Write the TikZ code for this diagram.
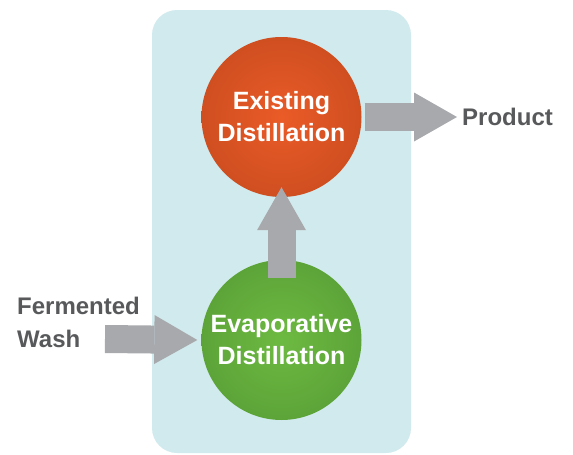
\documentclass[tikz,border=0pt]{standalone}
\usepackage{xcolor}
\usepackage{fontspec}
\setmainfont{Liberation Sans}
\usepackage{tikz}
\usetikzlibrary{arrows.meta}
\definecolor{panel}{HTML}{D1EAED}
\definecolor{flowgray}{HTML}{A7A9AC}
\definecolor{textgray}{HTML}{58595B}
\definecolor{hotin}{HTML}{EA5B27}
\definecolor{hotout}{HTML}{B5421B}
\definecolor{leafin}{HTML}{6DBA42}
\definecolor{leafout}{HTML}{4C8E2E}
\pgfdeclareradialshading{hotball}{\pgfpoint{0bp}{0bp}}{color(0bp)=(hotin); color(50bp)=(hotout)}
\pgfdeclareradialshading{leafball}{\pgfpoint{0bp}{0bp}}{color(0bp)=(leafin); color(50bp)=(leafout)}
\tikzset{>=latex}
\tikzstyle{ball} = [circle, minimum size = 160pt, inner sep = 0, align = center, text = white, font = \bfseries\fontsize{25}{32}\selectfont]
\tikzstyle{lbl} = [inner sep = 0, text = textgray, font = \bfseries\fontsize{24}{33}\selectfont]
\tikzstyle{flow} = [draw = flowgray, line width = 28pt, -{Triangle[width = 49pt, length = 43pt, line width = 0pt]}]

\begin{document}
\begin{tikzpicture}[x = 1pt, y = 1pt]
\useasboundingbox (0, 0) rectangle (573, -455);
\fill [panel, rounded corners = 25pt] (152, -10) rectangle (411, -453);
\node [ball, shading = hotball] (exist) at (281.5, -117) {Existing\\Distillation};
\node [ball, shading = leafball] (evap) at (281.5, -340) {Evaporative\\Distillation};
\node [lbl, anchor = base west] (product) at (462, -125) {Product};
\node [lbl, anchor = west, align = left] (wash) at (17, -322) {Fermented\\Wash};
\coordinate (washin) at (105, -339);
\draw [flow] (washin) to ([xshift = -4pt]evap.west);
\draw [flow] ([yshift = -18pt]evap.north) to ([yshift = 10pt]exist.south);
\draw [flow] ([xshift = 3pt]exist.east) to ([xshift = -5pt]product.west |- exist.east);
\end{tikzpicture}
\end{document}
